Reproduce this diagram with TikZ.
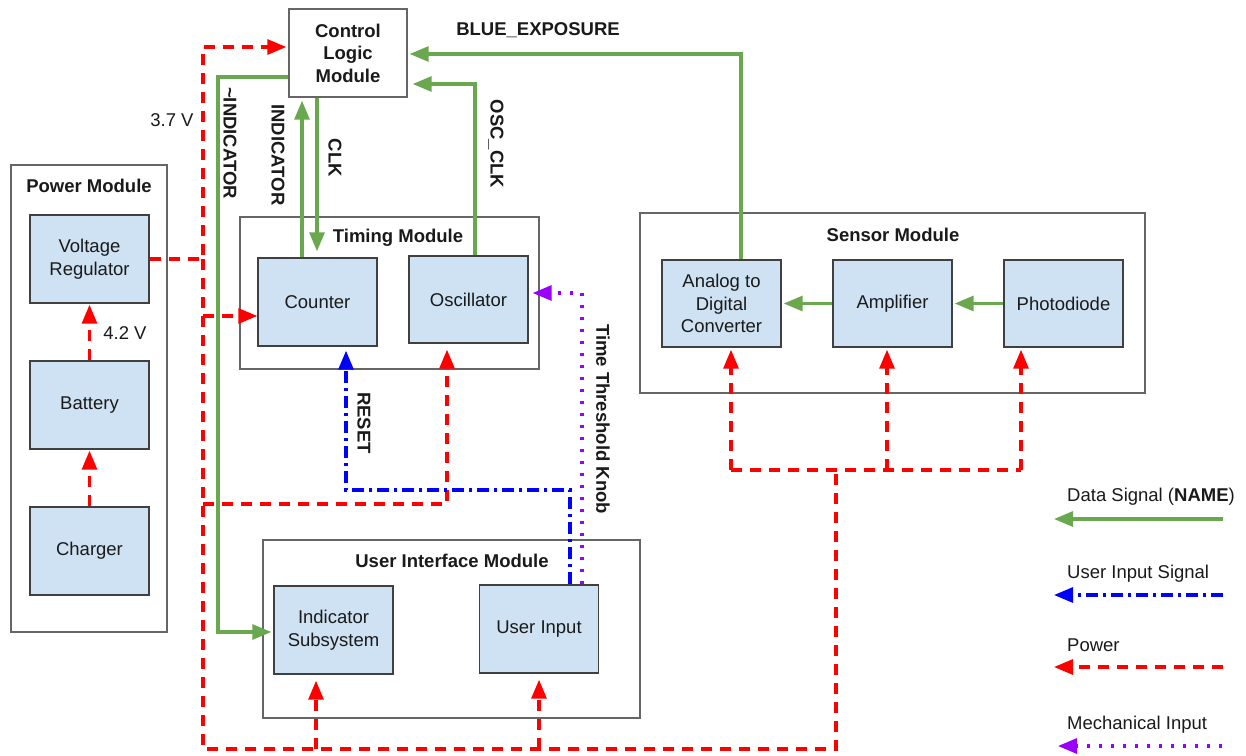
\documentclass[tikz,border=0pt]{standalone}
\usepackage{fontspec}
\setmainfont{Liberation Sans}
\usetikzlibrary{arrows.meta}
\definecolor{blockblue}{HTML}{CFE2F3}
\definecolor{dgreen}{HTML}{6AA84F}
\definecolor{purp}{HTML}{9900FF}
\definecolor{txt}{HTML}{1A1A1A}
\begin{document}
\begin{tikzpicture}[x=1pt,y=-1pt,
  every node/.style={font=\fontsize{18.5}{22.5}\selectfont, text=txt},
  blk/.style={draw=black!75, fill=blockblue, line width=1.4pt, minimum width=119pt, minimum height=88pt, align=center, inner sep=0pt},
  grp/.style={draw=black!60, line width=1.4pt, fill=white, inner sep=0pt},
  ttl/.style={font=\fontsize{18.5}{22.5}\selectfont\bfseries},
  lbl/.style={font=\fontsize{18.5}{22.5}\selectfont\bfseries, rotate=-90, inner sep=0pt},
  data/.style={draw=dgreen, line width=3.1pt, -{Triangle[length=19pt,width=15pt]}},
  pw/.style={draw=red, line width=3.1pt, dash pattern=on 11pt off 8pt, -{Triangle[length=19pt,width=15pt]}},
  pwl/.style={draw=red, line width=3.1pt, dash pattern=on 11pt off 8pt},
  uinp/.style={draw=blue, line width=3.1pt, dash pattern=on 12pt off 5pt on 3pt off 5pt, -{Triangle[length=19pt,width=15pt]}},
  mech/.style={draw=purp, line width=3.1pt, dash pattern=on 3.2pt off 8.8pt, -{Triangle[length=19pt,width=15pt]}},
]
\useasboundingbox (0,0) rectangle (1246,755);
\fill[white] (0,0) rectangle (1246,755);

% group boxes
\node[grp, minimum width=156pt, minimum height=467pt] (powerm) at (89,398.5) {};
\node[ttl] (powert) at (89,186) {Power Module};
\node[grp, minimum width=299pt, minimum height=152pt] (timingm) at (389.5,293) {};
\node[ttl] (timingt) at (398,238) {Timing Module};
\node[grp, minimum width=505pt, minimum height=180pt] (sensorm) at (892.5,303) {};
\node[ttl] (sensort) at (893,235) {Sensor Module};
\node[grp, minimum width=377pt, minimum height=178pt] (uim) at (451.5,629) {};
\node[ttl] (uit) at (452,561) {User Interface Module};

% blocks
\node[blk, draw=black!60, fill=white, minimum width=118pt] (ctrl) at (348,53) {\bfseries Control\\\bfseries Logic\\\bfseries Module};
\node[blk] (vreg) at (89.5,259) {Voltage\\Regulator};
\node[blk] (bat) at (89.5,405) {Battery};
\node[blk] (chg) at (89.5,551) {Charger};
\node[blk] (counter) at (317.5,302) {Counter};
\node[blk, minimum height=87pt] (osc) at (468.5,299.5) {Oscillator};
\node[blk, minimum height=87pt] (adc) at (721.5,303.5) {Analog to\\Digital\\Converter};
\node[blk, minimum height=87pt] (amp) at (892.5,303.5) {Amplifier};
\node[blk, minimum height=87pt] (pd) at (1063.5,303.5) {Photodiode};
\node[blk] (ind) at (333.5,630) {Indicator\\Subsystem};
\node[blk] (uin) at (539,629) {User Input};

% coordinates
\coordinate (pA) at (203,47);
\coordinate (pB) at (203,749);
\coordinate (pC) at (836,749);
\coordinate (pD) at (836,470);
\coordinate (sL) at (731,470);
\coordinate (sM) at (887,470);
\coordinate (sR) at (1021,470);
\coordinate (cB) at (203,316);
\coordinate (oB) at (203,504);
\coordinate (oX) at (447,504);
\coordinate (iB) at (316,749);
\coordinate (uB) at (539,749);
\coordinate (gE) at (741,54);
\coordinate (gO) at (475,84);
\coordinate (gI) at (302,0);
\coordinate (gK) at (317,0);
\coordinate (gN1) at (218,77);
\coordinate (gN2) at (218,632);
\coordinate (bR1) at (346,490);
\coordinate (bR2) at (570,490);
\coordinate (mK) at (582,293);

% power connectors
\draw[pw, shorten >=2pt] (vreg.east) -| (pA) -- (pA -| ctrl.west);
\draw[pwl] (vreg.east -| pA) -- (pB) -- (pC) -- (pD);
\draw[pwl] (sL) -- (sR);
\draw[pw, shorten >=2pt] (sL) -- (sL |- adc.south);
\draw[pw, shorten >=2pt] (sM) -- (sM |- amp.south);
\draw[pw, shorten >=2pt] (sR) -- (sR |- pd.south);
\draw[pw] (cB) -- (cB -| counter.west);
\draw[pw, shorten >=6pt] (oB) -- (oX) -- (oX |- osc.south);
\draw[pw, shorten >=6pt] (iB) -- (iB |- ind.south);
\draw[pw, shorten >=6pt] (uB) -- (uB |- uin.south);
\draw[pw, shorten >=1pt] (bat.north) -- (vreg.south);
\draw[pw, shorten >=1pt] (chg.north) -- (bat.south);

% data connectors
\draw[data, shorten >=2pt] (gE |- adc.north) -- (gE) -- (gE -| ctrl.east);
\draw[data, shorten >=5pt] (gO |- osc.north) -- (gO) -- (gO -| ctrl.east);
\draw[data, shorten >=3pt] (gI |- counter.north) -- (gI |- ctrl.south);
\draw[data, shorten >=6pt] (gK |- ctrl.south) -- (gK |- counter.north);
\draw[data, shorten >=2pt] (gN1 -| ctrl.west) -- (gN1) -- (gN2) -- (gN2 -| ind.west);
\draw[data, shorten >=2pt] (pd.west) -- (amp.east);
\draw[data, shorten >=2pt] (amp.west) -- (adc.east);

% user input and mechanical
\draw[uinp, shorten >=4pt] (bR2 |- uin.north) -- (bR2) -- (bR1) -- (bR1 |- counter.south);
\draw[mech, shorten >=4pt] (mK |- uin.north) -- (mK) -- (mK -| osc.east);

% labels
\node[ttl] (lblue) at (538,30) {BLUE\_EXPOSURE};
\node[lbl] (lnind) at (230,143) {\textasciitilde INDICATOR};
\node[lbl] (lind) at (278,155) {INDICATOR};
\node[lbl] (lclk) at (335,158) {CLK};
\node[lbl] (losc) at (496,144) {OSC\_CLK};
\node[lbl] (lreset) at (364,423) {RESET};
\node[lbl] (lknob) at (603,419) {Time Threshold Knob};
\node (l37) at (172,120) {3.7 V};
\node (l42) at (125,333) {4.2 V};

% legend
\node[anchor=west, inner sep=0pt] (lg1) at (1067,497) {Data Signal (\textbf{NAME})};
\node[anchor=west, inner sep=0pt] (lg2) at (1067,574) {User Input Signal};
\node[anchor=west, inner sep=0pt] (lg3) at (1067,645) {Power};
\node[anchor=west, inner sep=0pt] (lg4) at (1067,725) {Mechanical Input};
\coordinate (la1) at (1223,519); \coordinate (lb1) at (1054,519);
\coordinate (la2) at (1223,595); \coordinate (lb2) at (1054,595);
\coordinate (la3) at (1223,667); \coordinate (lb3) at (1054,667);
\coordinate (la4) at (1222,746); \coordinate (lb4) at (1058,746);
\draw[data] (la1) -- (lb1);
\draw[uinp] (la2) -- (lb2);
\draw[pw] (la3) -- (lb3);
\draw[mech] (la4) -- (lb4);
\end{tikzpicture}
\end{document}
